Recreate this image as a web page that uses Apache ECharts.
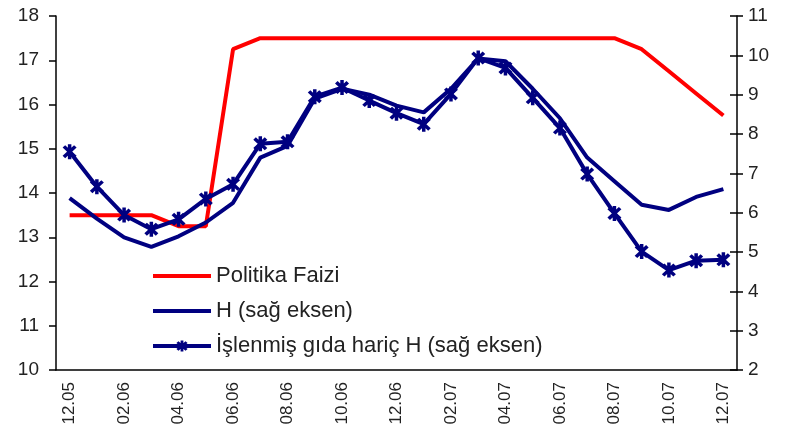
<!DOCTYPE html>
<html>
<head>
<meta charset="utf-8">
<script src="https://cdn.jsdelivr.net/npm/echarts@6/dist/echarts.min.js"></script>
<style>
html,body{margin:0;padding:0;background:#fff;}
#chart{width:787px;height:448px;}
</style>
</head>
<body>
<div id="chart"></div>
<script>
var categories = ['12.05','01.06','02.06','03.06','04.06','05.06','06.06','07.06','08.06','09.06','10.06','11.06','12.06',
  '01.07','02.07','03.07','04.07','05.07','06.07','07.07','08.07','09.07','10.07','11.07','12.07'];
var politikaFaizi = [13.5,13.5,13.5,13.5,13.25,13.25,17.25,17.5,17.5,17.5,17.5,17.5,17.5,17.5,17.5,17.5,17.5,17.5,17.5,17.5,17.5,17.25,16.75,16.25,15.75];
var hSeries = [6.37,5.85,5.37,5.13,5.4,5.75,6.25,7.4,7.7,8.9,9.15,9.0,8.72,8.55,9.15,9.92,9.85,9.15,8.4,7.4,6.8,6.2,6.07,6.4,6.6];
var islenmisHaric = [7.55,6.66,5.94,5.58,5.83,6.35,6.72,7.75,7.8,8.95,9.18,8.85,8.53,8.25,9.02,9.93,9.68,8.92,8.15,6.98,5.98,5.01,4.54,4.78,4.8];
var seriesNames = ['Politika Faizi','H (sağ eksen)','İşlenmiş gıda hariç H (sağ eksen)'];

var starPath = 'path://M-1.3,-6L1.3,-6L1.3,6L-1.3,6Z M-3.3,-5.2L5.2,3.3L3.3,5.2L-5.2,-3.3Z M-5.2,3.3L3.3,-5.2L5.2,-3.3L-3.3,5.2Z';
var font = 'Liberation Sans';
var chart = echarts.init(document.getElementById('chart'), null, {renderer:'canvas'});
chart.setOption({
  backgroundColor:'#ffffff',
  animation:false,
  grid:{left:56,right:50,top:16,bottom:78},
  legend:{
    orient:'vertical', left:146, top:259,
    itemWidth:58, itemHeight:14, itemGap:11,
    lineStyle:{width:4},
    textStyle:{fontFamily:font,fontSize:22,color:'#222',lineHeight:24},
    data:[
      {name:seriesNames[0],itemStyle:{opacity:0}},
      {name:seriesNames[1],itemStyle:{opacity:0}},
      {name:seriesNames[2]}
    ]
  },
  xAxis:{
    type:'category', data:categories, boundaryGap:true,
    axisLine:{lineStyle:{color:'#000',width:1.5}},
    axisTick:{interval:1,length:8,lineStyle:{color:'#000',width:1.5}},
    axisLabel:{interval:1,rotate:90,margin:12,fontFamily:font,fontSize:17,color:'#222'},
    splitLine:{show:false}
  },
  yAxis:[
    {type:'value',position:'left',min:10,max:18,interval:1,
     axisLine:{show:true,lineStyle:{color:'#000',width:1.5}},
     axisTick:{show:true,length:7,lineStyle:{color:'#000',width:1.5}},
     axisLabel:{margin:17,fontFamily:font,fontSize:19,color:'#222'},
     splitLine:{show:false}},
    {type:'value',position:'right',min:2,max:11,interval:1,
     axisLine:{show:true,lineStyle:{color:'#000',width:1.5}},
     axisTick:{show:true,length:6,lineStyle:{color:'#000',width:1.5}},
     axisLabel:{margin:11,fontFamily:font,fontSize:19,color:'#222'},
     splitLine:{show:false}},
    {type:'value',position:'right',min:2,max:11,interval:1,
     axisLine:{show:false},
     axisTick:{show:true,inside:true,length:7,lineStyle:{color:'#000',width:1.5}},
     axisLabel:{show:false},
     splitLine:{show:false}}
  ],
  series:[
    {name:seriesNames[0],type:'line',yAxisIndex:0,data:politikaFaizi,symbol:'none',
     lineStyle:{color:'#ff0000',width:4},itemStyle:{color:'#ff0000'}},
    {name:seriesNames[1],type:'line',yAxisIndex:1,data:hSeries,symbol:'none',
     lineStyle:{color:'#000080',width:4},itemStyle:{color:'#000080'}},
    {name:seriesNames[2],type:'line',yAxisIndex:1,data:islenmisHaric,symbol:starPath,symbolSize:[14,15],showAllSymbol:true,
     lineStyle:{color:'#000080',width:4},itemStyle:{color:'#000080',borderWidth:0}}
  ]
});
</script>
</body>
</html>
